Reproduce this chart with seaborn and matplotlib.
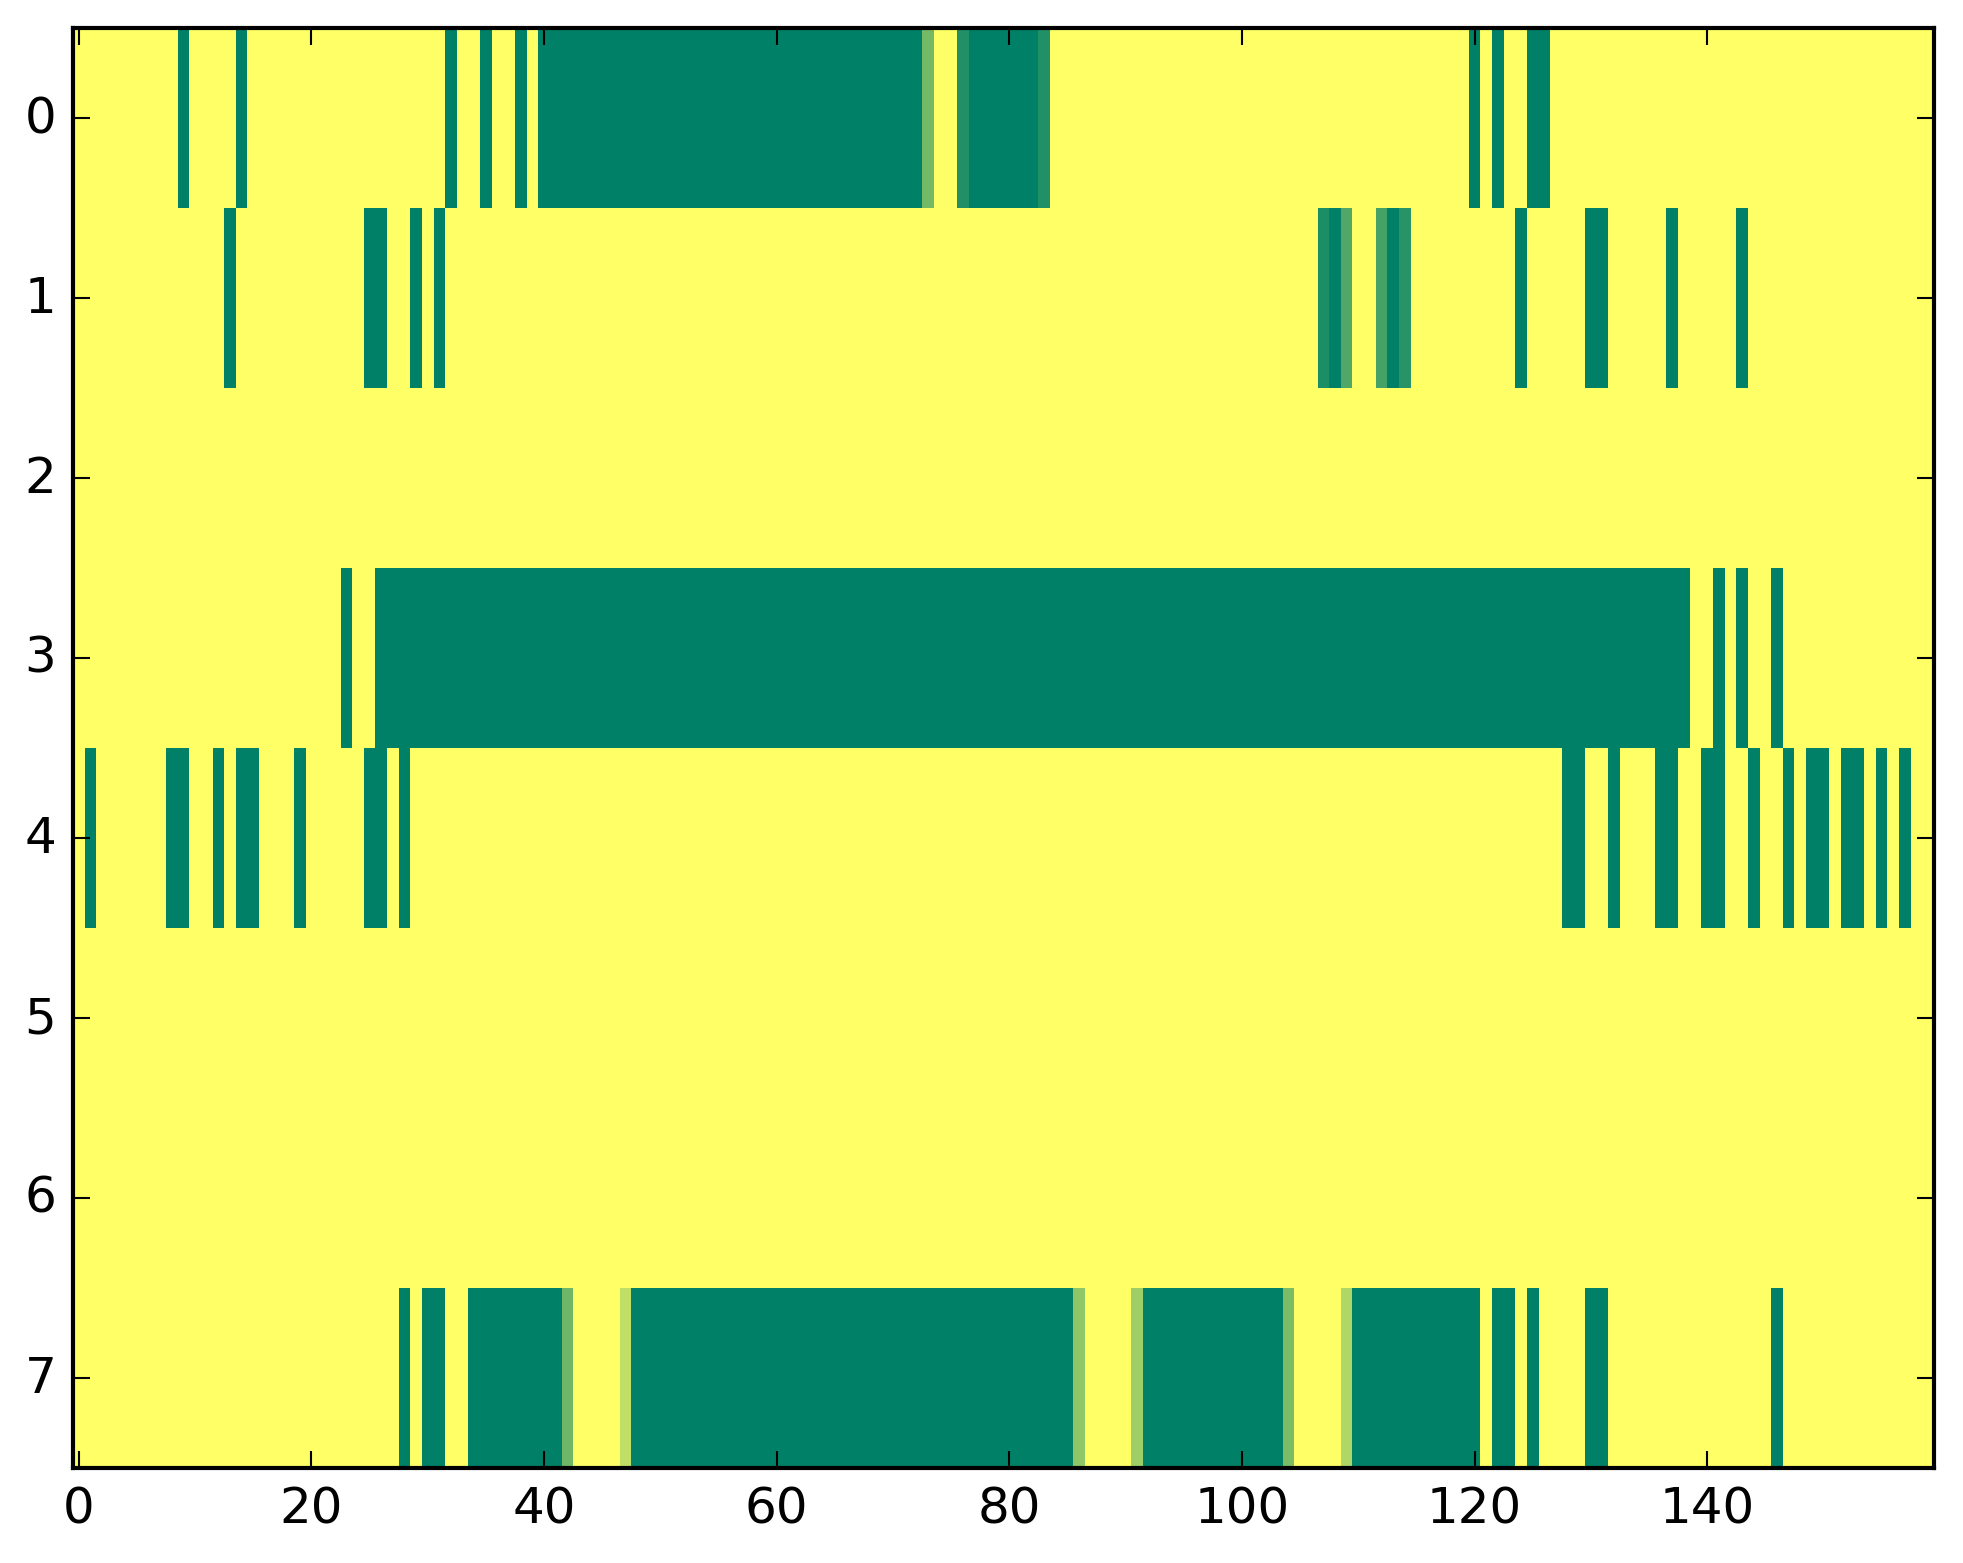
import numpy as np
import seaborn as sns
import matplotlib
matplotlib.use('Agg')
import matplotlib.pyplot as plt

n_rows = 8
n_cols = 160

# columns that are fully "on" (value 1) in each row
row0_on = [9, 14, 32, 35, 38] + list(range(40, 73)) + list(range(77, 83)) + [120, 122, 125, 126]
row1_on = [13, 25, 26, 29, 31, 108, 113, 124, 130, 131, 137, 143]
row2_on = []
row3_on = [23] + list(range(26, 139)) + [141, 143, 146]
row4_on = [1, 8, 9, 12, 14, 15, 19, 25, 26, 28, 128, 129, 132, 136, 137,
           140, 141, 144, 147, 149, 150, 152, 153, 155, 157]
row5_on = []
row6_on = []
row7_on = ([28, 30, 31] + list(range(34, 42)) + list(range(48, 86)) + list(range(92, 104))
           + list(range(110, 121)) + [122, 123, 125, 130, 131, 146])

# cells with an in-between value
row0_part = {73: 0.55, 76: 0.87, 83: 0.87}
row1_part = {107: 0.89, 109: 0.68, 112: 0.73, 114: 0.84}
row7_part = {42: 0.57, 47: 0.25, 86: 0.44, 91: 0.38, 104: 0.52, 109: 0.32}

rows_on = [row0_on, row1_on, row2_on, row3_on, row4_on, row5_on, row6_on, row7_on]
rows_part = {0: row0_part, 1: row1_part, 7: row7_part}

data = np.zeros((n_rows, n_cols))
for r, cols in enumerate(rows_on):
    data[r, cols] = 1.0
for r, part in rows_part.items():
    for c, v in part.items():
        data[r, c] = v

x_ticks = list(range(0, 160, 20))
y_ticks = list(range(n_rows))

plt.rcParams['font.family'] = 'DejaVu Sans'
plt.rcParams['font.size'] = 12

fig = plt.figure(figsize=(1963 / 300, 1564 / 300), dpi=300)
ax = fig.add_axes([73 / 1963, 1 - 1469 / 1564, (1934 - 73) / 1963, 1440 / 1564])

sns.heatmap(data, cmap='summer_r', vmin=0, vmax=1, cbar=False, ax=ax)

for s in ax.spines.values():
    s.set_visible(True)
    s.set_linewidth(1.0)
    s.set_color('black')

ax.set_xticks([t + 0.5 for t in x_ticks])
ax.set_xticklabels([str(t) for t in x_ticks], rotation=0)
ax.set_yticks([t + 0.5 for t in y_ticks])
ax.set_yticklabels([str(t) for t in y_ticks], rotation=0)
ax.tick_params(direction='in', top=True, right=True, length=4, width=0.5,
               pad=4, labelsize=12, colors='black')

fig.savefig('out.png', dpi=300)
plt.close(fig)
